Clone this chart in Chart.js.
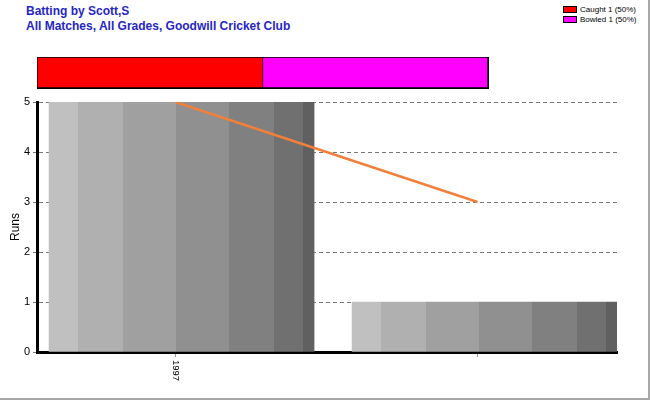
<!DOCTYPE html>
<html>
<head>
<meta charset="utf-8">
<script src="https://cdn.jsdelivr.net/npm/chart.js@4/dist/chart.umd.min.js"></script>
<style>
    html, body { margin: 0; padding: 0; background: #fff; }
    #page { position: relative; width: 648px; height: 398px; border-right: 2px solid #a8a8a8; border-bottom: 2px solid #a8a8a8; overflow: hidden; font-family: "Liberation Sans", Arial, sans-serif; }
    #page canvas { position: absolute; }
    #title { position: absolute; left: 26px; top: 4px; color: #2626c4; font-weight: bold; font-size: 12px; line-height: 15px; }
    #legend { position: absolute; left: 563px; top: 5px; font-size: 8px; line-height: 10px; color: #000; }
    #legend .row { height: 10px; white-space: nowrap; }
    #legend .box { display: inline-block; width: 12px; height: 5px; border: 1px solid #000; vertical-align: middle; margin-right: 3px; }
</style>
</head>
<body>
<div id="page">
    <div id="title"></div>
    <div id="legend"></div>
    <canvas id="outs" width="500" height="45" style="left:0;top:50px"></canvas>
    <canvas id="runs" width="648" height="398" style="left:0;top:0"></canvas>
</div>
<script>
    // chart data
    const titleLines = ["Batting by Scott,S", "All Matches, All Grades, Goodwill Cricket Club"];
    const inningsLabels = ["1997", ""];
    const runs = [5, 1];
    const average = [5, 3];
    const yTicks = [0, 1, 2, 3, 4, 5];
    const dismissalTypes = ["Caught", "Bowled"];
    const dismissalCounts = [1, 1];

    // styles
    const dismissalColors = ["#ff0000", "#ff00ff"];
    const barShades = ["#c0c0c0", "#b0b0b0", "#a0a0a0", "#909090", "#808080", "#707070", "#606060"];
    const bandStops = [0, 0.109, 0.279, 0.479, 0.679, 0.849, 0.958, 1];
    const BAR_W = 265;
    const FONT = '"Liberation Sans", Arial, sans-serif';

    Chart.defaults.font.family = FONT;
    Chart.defaults.color = "#000";

    document.getElementById("title").innerHTML = titleLines.join("<br>");

    // legend for dismissals
    const total = dismissalCounts.reduce((a, b) => a + b, 0);
    document.getElementById("legend").innerHTML = dismissalTypes.map((t, i) => {
        const pct = Math.round(dismissalCounts[i] / total * 100);
        return `<div class="row"><span class="box" style="background:${dismissalColors[i]}"></span>${t} ${dismissalCounts[i]} (${pct}%)</div>`;
    }).join("");

    // top stacked bar: how out
    new Chart(document.getElementById("outs"), {
        type: "bar",
        data: {
            labels: ["Dismissals"],
            datasets: dismissalTypes.map((t, i) => ({
                label: t,
                data: [dismissalCounts[i]],
                backgroundColor: dismissalColors[i],
                borderColor: "#000",
                borderWidth: i === 0 ? { left: 1, top: 1, bottom: 2, right: 1 } : { left: 0, top: 1, bottom: 2, right: 2 },
                borderSkipped: false,
                barPercentage: 1,
                categoryPercentage: 1
            }))
        },
        options: {
            indexAxis: "y",
            responsive: false,
            animation: false,
            layout: { padding: { left: 37, right: 11, top: 7, bottom: 6 } },
            plugins: { legend: { display: false }, tooltip: { enabled: false } },
            scales: {
                x: { stacked: true, display: false, min: 0, max: total },
                y: { stacked: true, display: false }
            }
        }
    });

    // rotated x labels, reading top to bottom
    const xLabelPlugin = {
        id: "xLabels",
        afterDraw(chart) {
            const s = chart.scales.x;
            const ctx = chart.ctx;
            inningsLabels.forEach((lab, i) => {
                if (!lab) return;
                ctx.save();
                ctx.font = "9.5px " + FONT;
                ctx.fillStyle = "#000";
                ctx.textAlign = "left";
                ctx.textBaseline = "middle";
                ctx.translate(s.getPixelForValue(i), s.top + 8);
                ctx.rotate(Math.PI / 2);
                ctx.fillText(lab, 0, 0);
                ctx.restore();
            });
        }
    };

    function shadedBar(c) {
        const ch = c.chart;
        const s = ch.scales.xBar;
        if (!s || c.dataIndex === undefined) return barShades[3];
        const left = s.getPixelForValue(c.dataIndex) - BAR_W / 2;
        if (!isFinite(left)) return barShades[3];
        const g = ch.ctx.createLinearGradient(left, 0, left + BAR_W, 0);
        barShades.forEach((col, k) => {
            g.addColorStop(bandStops[k], col);
            g.addColorStop(bandStops[k + 1], col);
        });
        return g;
    }

    new Chart(document.getElementById("runs"), {
        type: "bar",
        data: {
            datasets: [
                {
                    type: "bar",
                    label: "Runs",
                    data: runs.map((v, i) => ({ x: i, y: v })),
                    xAxisID: "xBar",
                    backgroundColor: shadedBar,
                    grouped: false,
                    barThickness: BAR_W,
                    maxBarThickness: BAR_W,
                    barPercentage: 1,
                    categoryPercentage: 1,
                    order: 1
                },
                {
                    type: "line",
                    label: "Average",
                    data: average.map((v, i) => ({ x: i, y: v })),
                    xAxisID: "x",
                    borderColor: "#f0803c",
                    borderWidth: 2.5,
                    pointRadius: 0,
                    tension: 0,
                    order: 0
                }
            ]
        },
        options: {
            responsive: false,
            animation: false,
            layout: { padding: { left: 0, top: 102, right: 31, bottom: 0 } },
            plugins: { legend: { display: false }, tooltip: { enabled: false } },
            scales: {
                x: {
                    type: "linear",
                    position: "bottom",
                    min: -0.459,
                    max: 1.462,
                    offset: false,
                    afterBuildTicks: s => { s.ticks = inningsLabels.map((l, i) => ({ value: i })); },
                    afterFit: s => { s.height = 46; },
                    ticks: { display: false },
                    grid: { offset: false, drawOnChartArea: false, drawTicks: true, tickLength: 5, color: "#999" },
                    border: { color: "#000", width: 3 }
                },
                xBar: {
                    type: "linear",
                    display: false,
                    min: -0.477,
                    max: 1.437,
                    offset: false
                },
                y: {
                    min: 0,
                    max: 5,
                    afterBuildTicks: s => { s.ticks = yTicks.map(v => ({ value: v })); },
                    afterFit: s => { s.width = 37; },
                    ticks: { font: { size: 11 }, color: "#000", padding: 3 },
                    grid: { color: "#777", tickLength: 4 },
                    border: { color: "#000", width: 3, dash: [4, 3] },
                    title: { display: true, text: "Runs", font: { size: 12 }, color: "#000", padding: { top: 8, bottom: 0 } }
                }
            }
        },
        plugins: [xLabelPlugin]
    });
</script>
</body>
</html>
